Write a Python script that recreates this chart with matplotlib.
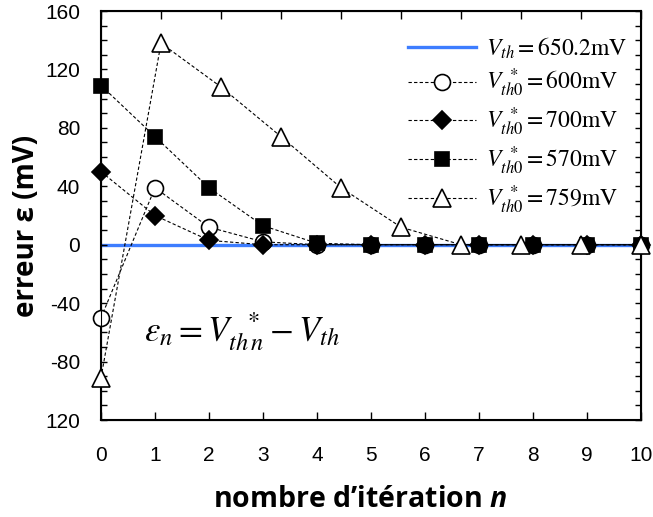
import numpy as np
import matplotlib
matplotlib.use('Agg')
from matplotlib import pyplot as plt
from matplotlib.font_manager import FontProperties

plt.rcParams['font.family'] = ['Liberation Sans', 'DejaVu Sans']
plt.rcParams['mathtext.fontset'] = 'custom'
plt.rcParams['mathtext.it'] = 'Open Sans:italic:bold'
plt.rcParams['mathtext.rm'] = 'Open Sans:bold'

# data
n = np.arange(0, 11)
err_600 = [-50, 39, 12, 2, 0, 0, 0, 0, 0, 0, 0]
err_700 = [50, 20, 3, 0, 0, 0, 0, 0, 0, 0, 0]
err_570 = [109, 74, 39, 13, 1, 0, 0, 0, 0, 0, 0]
n_759 = np.arange(0, 10)          # plotted on the top (0..9) axis
err_759 = [-91, 138, 108, 74, 39, 12, 0, 0, 0, 0]
vth = 0

yticks = [-120, -80, -40, 0, 40, 80, 120, 160]
ytick_labels = ['120', '-80', '-40', '0', '40', '80', '120', '160']
xticks = list(range(0, 11))

labels = [r'$V_{th}=650.2\mathrm{mV}$',
          r'$V_{th0}^{\ *}=600\mathrm{mV}$',
          r'$V_{th0}^{\ *}=700\mathrm{mV}$',
          r'$V_{th0}^{\ *}=570\mathrm{mV}$',
          r'$V_{th0}^{\ *}=759\mathrm{mV}$']

fig = plt.figure(figsize=(6.53, 5.17), dpi=100)
ax = fig.add_axes([0.1547, 0.1876, 0.827, 0.7911])

dash = dict(color='k', lw=0.8, ls=(0, (3, 2)), mec='k', mew=1.2, clip_on=False)
h0, = ax.plot([0, 10], [vth, vth], color='#3d7dff', lw=2.4, zorder=1)
h1, = ax.plot(n, err_600, marker='o', ms=11.5, mfc='w', zorder=3, **dash)
h2, = ax.plot(n, err_700, marker='D', ms=9, mfc='k', zorder=4, **dash)
h3, = ax.plot(n, err_570, marker='s', ms=9.5, mfc='k', zorder=5, **dash)

ax.set_xlim(0, 10)
ax.set_ylim(-120, 160)
ax.set_xticks(xticks)
ax.set_yticks(yticks)
ax.set_yticklabels(ytick_labels)
ax.set_yticks(np.arange(-120, 161, 10), minor=True)
ax.tick_params(axis='x', which='both', direction='in', top=False, length=6,
               width=1, labelsize=15, pad=19)
ax.tick_params(axis='y', which='both', direction='in', left=True, right=True,
               length=4, width=1, labelsize=15, pad=15)
for s in ax.spines.values():
    s.set_linewidth(1.5)

ax2 = ax.twiny()
ax2.set_xlim(0, 9)
ax2.set_xticks(range(0, 10))
ax2.tick_params(axis='x', direction='in', length=6, width=1, labeltop=False)
h4, = ax2.plot(n_759, err_759, marker='^', ms=13.5, mfc='w', zorder=6, **dash)
ax2.set_ylim(-120, 160)

ax.set_ylabel('erreur ε (mV)', fontsize=20, fontweight='bold',
              family=['Open Sans', 'DejaVu Sans'])
ax.yaxis.set_label_coords(-0.112, 0.475)
ax.set_xlabel(r'nombre d’itération $n$', fontsize=20.5, fontweight='bold',
              family=['Open Sans', 'DejaVu Sans'])
ax.xaxis.set_label_coords(0.48, -0.158)

ax.text(0.08, 0.215, r'$\varepsilon_n =V_{th\,n}^{\ \ *}-V_{th}$',
        transform=ax.transAxes, fontsize=25, math_fontfamily='stix',
        va='center', ha='left')

leg = ax2.legend([h0, h1, h2, h3, h4], labels, loc='upper right',
                 bbox_to_anchor=(1.0, 0.975), frameon=False,
                 prop=FontProperties(family='Liberation Serif', size=17,
                                     math_fontfamily='stix'),
                 handlelength=2.9, handletextpad=0.4, labelspacing=0.27,
                 borderaxespad=0.2)

plt.savefig('out.png', dpi=100)
